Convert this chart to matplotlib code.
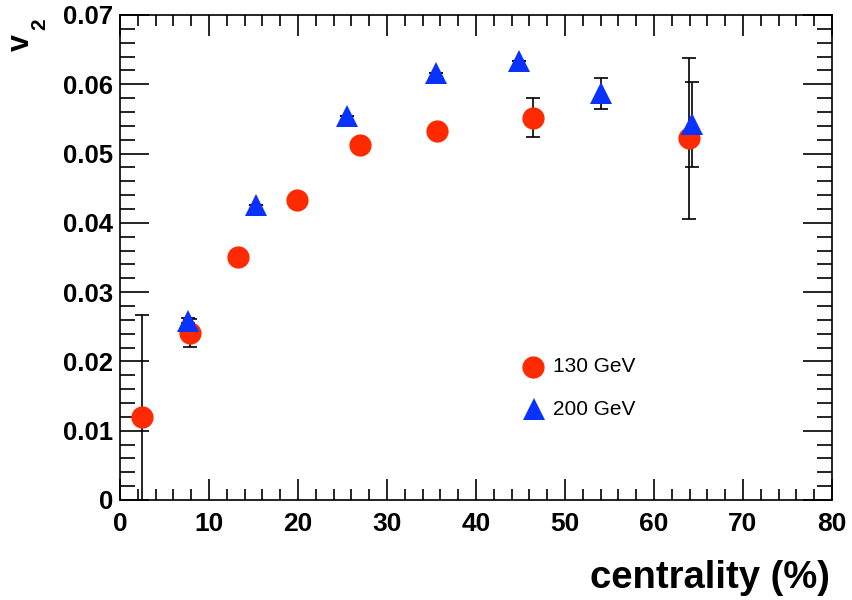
import matplotlib
matplotlib.use("Agg")
import matplotlib.pyplot as plt
from matplotlib.ticker import MultipleLocator

plt.rcParams['font.family'] = ['Liberation Sans', 'DejaVu Sans']

# 130 GeV data (red circles)
cent_130 = [2.5, 7.9, 13.3, 19.9, 27.0, 35.6, 46.4, 63.9]
v2_130 = [0.0120, 0.0241, 0.0351, 0.0433, 0.0513, 0.0532, 0.0552, 0.0522]
err_130 = [0.0147, 0.0020, 0.0, 0.0, 0.0, 0.0, 0.0028, 0.0116]

# 200 GeV data (blue triangles)
cent_200 = [7.7, 15.3, 25.5, 35.5, 44.8, 54.1, 64.3]
v2_200 = [0.0259, 0.0426, 0.0554, 0.0616, 0.0633, 0.0587, 0.0542]
err_200 = [0.0004, 0.0, 0.0, 0.0, 0.0, 0.0022, 0.0062]

legend_labels = ['130 GeV', '200 GeV']

red = '#ff2a00'
blue = '#0a32ff'

fig = plt.figure(figsize=(8.52, 6), dpi=100)
ax = fig.add_axes([0.1408, 0.1667, 0.8357, 0.8083])

# error bars first, markers on top
ax.errorbar(cent_130, v2_130, yerr=err_130, fmt='none', ecolor='black',
            elinewidth=1.2, capsize=5, capthick=1.2, zorder=2)
ax.errorbar(cent_200, v2_200, yerr=err_200, fmt='none', ecolor='black',
            elinewidth=1.2, capsize=5, capthick=1.2, zorder=2)
ax.plot(cent_130, v2_130, 'o', color=red, markersize=16, markeredgewidth=0,
        zorder=3)
ax.plot(cent_200, v2_200, '^', color=blue, markersize=16, markeredgewidth=0,
        zorder=4)

ax.set_xlim(0, 80)
ax.set_ylim(0, 0.07)
ax.xaxis.set_major_locator(MultipleLocator(10))
ax.xaxis.set_minor_locator(MultipleLocator(2))
ax.yaxis.set_major_locator(MultipleLocator(0.01))
ax.yaxis.set_minor_locator(MultipleLocator(0.002))
ax.yaxis.set_major_formatter(plt.FuncFormatter(
    lambda v, p: '0' if abs(v) < 1e-9 else '%.2f' % v))

# ROOT style ticks on all four sides
ax.tick_params(which='both', direction='in', top=True, right=True, width=1.2)
ax.tick_params(axis='x', which='major', length=15, labelsize=19, pad=9)
ax.tick_params(axis='x', which='minor', length=8)
ax.tick_params(axis='y', which='major', length=21, labelsize=18.5, pad=5)
ax.tick_params(axis='y', which='minor', length=11)
for lab in ax.get_xticklabels() + ax.get_yticklabels():
    lab.set_fontweight('bold')
for s in ax.spines.values():
    s.set_linewidth(1.2)

# axis titles
fig.text(0.974, 0.037, 'centrality (%)', ha='right', va='center',
         fontsize=27.5, fontweight='bold')
fig.text(0.024, 0.929, 'v', ha='center', va='center', rotation=90,
         fontsize=22, fontweight='bold')
fig.text(0.0464, 0.96, '2', ha='center', va='center', rotation=90,
         fontsize=15, fontweight='bold')

# legend
ax.plot([46.4], [0.0192], 'o', color=red, markersize=16, markeredgewidth=0,
        clip_on=False)
ax.plot([46.5], [0.0131], '^', color=blue, markersize=16, markeredgewidth=0,
        clip_on=False)
ax.text(48.6, 0.0192, legend_labels[0], fontsize=15, va='center', ha='left')
ax.text(48.6, 0.0131, legend_labels[1], fontsize=15, va='center', ha='left')

fig.savefig('out.png', dpi=100)
